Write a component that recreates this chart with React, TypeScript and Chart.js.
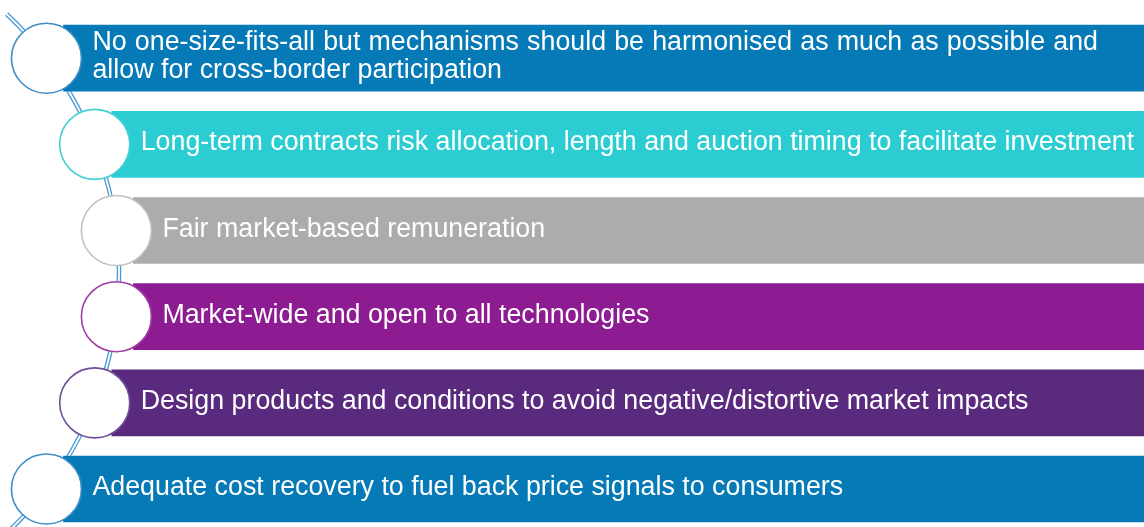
import React, { useEffect, useRef } from "react";
import { Chart, registerables } from "chart.js";

Chart.register(...registerables);

// ---- content ----
const itemLines: string[][] = [
  [
    "No one-size-fits-all but mechanisms should be harmonised as much as possible and",
    "allow for cross-border participation",
  ],
  ["Long-term contracts risk allocation, length and auction timing to facilitate investment"],
  ["Fair market-based remuneration"],
  ["Market-wide and open to all technologies"],
  ["Design products and conditions to avoid negative/distortive market impacts"],
  ["Adequate cost recovery to fuel back price signals to consumers"],
];
const barColors = ["#057AB6", "#2CCDD2", "#ACACAC", "#8D1B92", "#5A2A7E", "#057AB6"];
const ringColors = ["#3E8EC6", "#45D0D6", "#C2C2C2", "#A03FA5", "#71509A", "#3E8EC6"];

// ---- layout (px) ----
const W = 1144;
const H = 527;
const ROW = 86.16; // px per row
const FIRST = 58.2; // px of first row center
const ARC_CX = -237;
const ARC_R = 356;
const MID = (itemLines.length - 1) / 2;
const CIRCLE_R = 35;
const BAR_INSET = 16;
const TEXT_GAP = 46;
const TEXT_RIGHT = W - 46;
const FONT = '26.8px "Liberation Sans", Arial, sans-serif';
const LINE_H = 28;

const yMin = -FIRST / ROW;
const yMax = yMin + H / ROW;
const circleX = (i: number) => ARC_CX + Math.sqrt(ARC_R * ARC_R - ((i - MID) * ROW) ** 2);

const diagramPlugin = {
  id: "diagram",
  beforeDatasetsDraw(chart: any) {
    const { ctx } = chart;
    const xs = chart.scales.x;
    const ys = chart.scales.y;
    const cx = xs.getPixelForValue(ARC_CX);
    const cy = ys.getPixelForValue(MID);
    const r = xs.getPixelForValue(ARC_CX + ARC_R) - cx;
    const topY = ys.getPixelForValue(-0.513);
    const a = Math.asin(Math.min(1, (cy - topY) / r));
    ctx.save();
    ctx.beginPath();
    ctx.arc(cx, cy, r, -a, a, false);
    ctx.strokeStyle = "#4A9BD4";
    ctx.lineWidth = 4.5;
    ctx.stroke();
    ctx.beginPath();
    ctx.arc(cx, cy, r, -a, a, false);
    ctx.strokeStyle = "#FFFFFF";
    ctx.lineWidth = 1.8;
    ctx.stroke();
    ctx.restore();
  },
  afterDatasetsDraw(chart: any) {
    const { ctx } = chart;
    const xs = chart.scales.x;
    const ys = chart.scales.y;
    ctx.save();
    ctx.font = FONT;
    ctx.fillStyle = "#FFFFFF";
    ctx.textBaseline = "alphabetic";
    ctx.textAlign = "left";
    itemLines.forEach((lines, i) => {
      const cyp = ys.getPixelForValue(i);
      const x0 = xs.getPixelForValue(circleX(i)) + TEXT_GAP;
      const n = lines.length;
      lines.forEach((line, k) => {
        const base = cyp + 6 + (k - (n - 1) / 2) * LINE_H;
        if (n > 1 && k < n - 1) {
          const words = line.split(" ");
          const widths = words.map((w) => ctx.measureText(w).width);
          const sum = widths.reduce((s, v) => s + v, 0);
          const gap = (TEXT_RIGHT - x0 - sum) / (words.length - 1);
          let x = x0;
          words.forEach((w, j) => {
            ctx.fillText(w, x, base);
            x += widths[j] + gap;
          });
        } else {
          ctx.fillText(line, x0, base);
        }
      });
    });
    ctx.restore();
  },
};

export default function App() {
  const ref = useRef<HTMLCanvasElement | null>(null);
  useEffect(() => {
    document.body.style.margin = "0";
    const canvas = ref.current;
    if (!canvas) return;
    const chart = new Chart(canvas, {
      type: "bar",
      data: {
        datasets: [
          {
            type: "scatter",
            data: itemLines.map((_, i) => ({ x: circleX(i), y: i })),
            pointRadius: CIRCLE_R,
            pointHoverRadius: CIRCLE_R,
            pointBackgroundColor: "#FFFFFF",
            pointBorderColor: ringColors,
            pointBorderWidth: 1.6,
            showLine: false,
            clip: false,
            order: 1,
          } as any,
          {
            type: "bar",
            indexAxis: "y",
            data: itemLines.map((_, i) => ({ x: [circleX(i) + BAR_INSET, W + 20], y: i })),
            backgroundColor: barColors,
            borderColor: "rgba(255,255,255,0.28)",
            borderWidth: 1,
            borderSkipped: false,
            barThickness: 68,
            order: 2,
          } as any,
        ],
      },
      options: {
        animation: false,
        responsive: false,
        indexAxis: "y",
        events: [],
        layout: { padding: 0, autoPadding: false },
        plugins: { legend: { display: false }, tooltip: { enabled: false } },
        scales: {
          x: { type: "linear", min: 0, max: W, offset: false, display: false },
          y: { type: "linear", min: yMin, max: yMax, reverse: true, offset: false, display: false },
        },
      },
      plugins: [diagramPlugin],
    } as any);
    return () => chart.destroy();
  }, []);
  return (
    <div style={{ position: "fixed", left: 0, top: 0, width: W, height: H, overflow: "hidden", background: "#fff" }}>
      <canvas ref={ref} width={W} height={H} style={{ display: "block" }} />
    </div>
  );
}
